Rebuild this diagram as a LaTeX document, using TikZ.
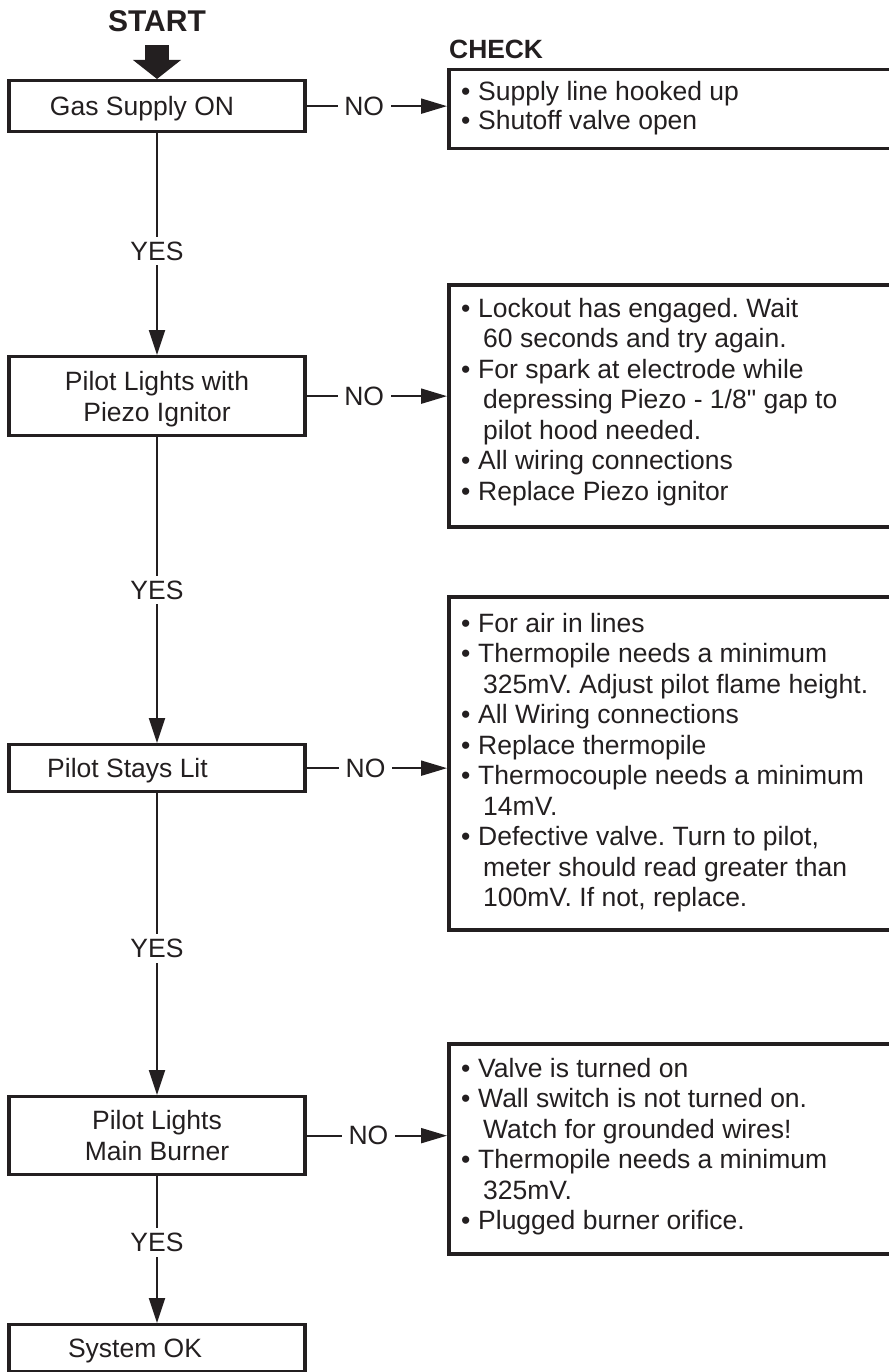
\documentclass[tikz,border=0pt]{standalone}
\usepackage{fontspec}
\setmainfont{Liberation Sans}[Ligatures=TeXOff]
\usetikzlibrary{arrows.meta}
\definecolor{ink}{HTML}{231F20}
\newcommand\bl{\makebox[17pt][l]{•}}
\newcommand\ind{\hspace*{22pt}}
\newcommand\txt{\fontsize{26.5}{31}\selectfont}
\begin{document}
\frenchspacing
\begin{tikzpicture}[x=1pt,y=-1pt,
  every node/.style={text=ink},
  box/.style={draw=ink, line width=3.3pt, minimum width=296pt, inner sep=0pt,
    anchor=north, font=\txt, align=center, text depth=0pt},
  chkbox/.style={draw=ink, line width=3.5pt, minimum width=480pt, inner sep=0pt,
    anchor=north west},
  conn/.style={draw=ink, line width=2pt},
  varr/.style={conn, -{Triangle[length=25pt,width=16pt]}},
  harr/.style={conn, -{Triangle[length=26pt,width=15pt]}},
  yeslbl/.style={fill=white, inner xsep=2pt, inner ysep=5pt, text depth=0pt, font=\txt},
  nolbl/.style={fill=white, inner xsep=6.5pt, inner ysep=2pt, text depth=0pt, font=\txt},
  lst/.style={anchor=base west, inner sep=0pt}
]
\useasboundingbox (0,0) rectangle (888,1372);

% START
\node[inner sep=0pt, font=\bfseries\fontsize{30}{32}\selectfont] (st) at (157,21) {START};

% main boxes
\node[box, minimum height=51pt] (b1) at (157,79) {Gas Supply ON\hspace*{30pt}};
\node[box, minimum height=79pt] (b2) at (157,355) {Pilot Lights with\\Piezo Ignitor};
\node[box, minimum height=47pt] (b3) at (157,743) {Pilot Stays Lit\hspace*{59pt}};
\node[box, minimum height=78pt] (b4) at (157,1095) {Pilot Lights\\Main Burner};
\node[box, minimum height=47pt] (b5) at (157,1323) {System OK\hspace*{44pt}};

% check boxes
\node[inner sep=0pt, anchor=base west, font=\bfseries\fontsize{26.4}{28}\selectfont] (chk) at (449,59) {CHECK};
\node[chkbox, minimum height=79pt] (c1) at (447,68) {};
\node[chkbox, minimum height=242pt] (c2) at (447,283) {};
\node[chkbox, minimum height=333pt] (c3) at (447,595) {};
\node[chkbox, minimum height=210pt] (c4) at (447,1042) {};

\node[lst] (l1) at (461,101) {\begin{minipage}[t]{420pt}\fontsize{26.5}{29}\selectfont\frenchspacing
\bl Supply line hooked up\\
\bl Shutoff valve open
\end{minipage}};

\node[lst] (l2) at (461,317) {\begin{minipage}[t]{420pt}\fontsize{26.5}{30.5}\selectfont\frenchspacing
\bl Lockout has engaged. Wait\\
\ind 60 seconds and try again.\\
\bl For spark at electrode while\\
\ind depressing Piezo - 1/8" gap to\\
\ind pilot hood needed.\\
\bl All wiring connections\\
\bl Replace Piezo ignitor
\end{minipage}};

\node[lst] (l3) at (461,632) {\begin{minipage}[t]{420pt}\fontsize{26.5}{30.5}\selectfont\frenchspacing
\bl For air in lines\\
\bl Thermopile needs a minimum\\
\ind 325mV. Adjust pilot flame height.\\
\bl All Wiring connections\\
\bl Replace thermopile\\
\bl Thermocouple needs a minimum\\
\ind 14mV.\\
\bl Defective valve. Turn to pilot,\\
\ind meter should read greater than\\
\ind 100mV. If not, replace.
\end{minipage}};

\node[lst] (l4) at (461,1077) {\begin{minipage}[t]{420pt}\fontsize{26.5}{30.5}\selectfont\frenchspacing
\bl Valve is turned on\\
\bl Wall switch is not turned on.\\
\ind Watch for grounded wires!\\
\bl Thermopile needs a minimum\\
\ind 325mV.\\
\bl Plugged burner orifice.
\end{minipage}};

% start arrow
\draw[draw=ink, line width=24pt, shorten <=13.5pt, -{Triangle[length=19pt,width=47pt]}] (st.south) -- (b1.north);

% YES connectors
\draw[varr] (b1) -- node[yeslbl, pos=0.53] (y1) {YES} (b2);
\draw[varr] (b2) -- node[yeslbl, pos=0.50] (y2) {YES} (b3);
\draw[varr] (b3) -- node[yeslbl, pos=0.515] (y3) {YES} (b4);
\draw[varr] (b4) -- node[yeslbl, pos=0.45] (y4) {YES} (b5);

% NO connectors
\draw[harr] (b1.east) -- node[nolbl, pos=0.41] (n1) {NO} (b1.east -| c1.west);
\draw[harr] (b2.east) -- node[nolbl, pos=0.41] (n2) {NO} (b2.east -| c2.west);
\draw[harr] (b3.east) -- node[nolbl, pos=0.42] (n3) {NO} (b3.east -| c3.west);
\draw[harr] (b4.east) -- node[nolbl, pos=0.44] (n4) {NO} (b4.east -| c4.west);
\end{tikzpicture}
\end{document}
